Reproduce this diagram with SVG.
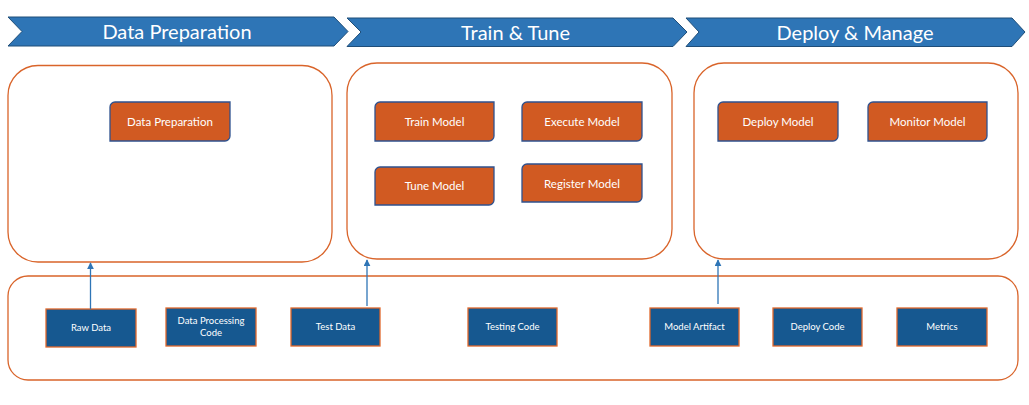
<svg xmlns="http://www.w3.org/2000/svg" width="1029" height="405" viewBox="0 0 1029 405">
<style>
.chev{fill:#2E75B6;stroke:#1F4E79;stroke-width:1}
.title{font-family:Lato,"Liberation Sans",sans-serif;font-size:20px;fill:#fff;text-anchor:middle}
.panel{fill:#fff;stroke:#D9642A;stroke-width:1.3}
.onode{fill:#D15A22;stroke:#2F528F;stroke-width:1.3}
.otext{font-family:Lato,"Liberation Sans",sans-serif;font-size:11.5px;fill:#fff;text-anchor:middle}
.bnode{fill:#165890;stroke:#E0682C;stroke-width:1.3}
.btext{font-family:Lato,"Liberation Sans",sans-serif;font-size:9.5px;fill:#fff;text-anchor:middle}
.conn{stroke:#2E75B6;stroke-width:1.3;fill:none;marker-end:url(#ah)}
</style>
<defs>
<marker id="ah" viewBox="0 0 10 10" refX="9" refY="5" markerWidth="7" markerHeight="7" markerUnits="userSpaceOnUse" orient="auto"><path d="M0,0 L10,5 L0,10 z" fill="#2E75B6"/></marker>
</defs>
<rect width="1029" height="405" fill="#fff"/>
<g id="chevron-data-preparation">
<polygon class="chev" points="8,17 334,17 348,31.5 334,46 8,46 22,31.5"/>
<text class="title" x="177" y="39">Data Preparation</text>
</g>
<g id="chevron-train-tune">
<polygon class="chev" points="347,18 673,18 687,32 673,46.5 347,46.5 361,32"/>
<text class="title" x="515.5" y="39.5">Train &amp; Tune</text>
</g>
<g id="chevron-deploy-manage">
<polygon class="chev" points="686,18 1012,18 1025,32 1012,46.5 686,46.5 699,32"/>
<text class="title" x="855" y="39.5">Deploy &amp; Manage</text>
</g>
<g id="panel-data-preparation"><rect class="panel" x="8" y="65.5" width="324" height="196.5" rx="30"/></g>
<g id="panel-train-tune"><rect class="panel" x="347" y="63" width="325" height="196" rx="30"/></g>
<g id="panel-deploy-manage"><rect class="panel" x="694" y="63" width="324" height="196" rx="30"/></g>
<g id="panel-artifacts"><rect class="panel" x="8" y="276" width="1010" height="104" rx="20"/></g>
<g id="node-data-preparation">
<path class="onode" d="M115,102 H230 V136 A5,5 0 0 1 225,141 H110 V107 A5,5 0 0 1 115,102 Z"/>
<text class="otext" x="170" y="125.5">Data Preparation</text>
</g>
<g id="node-train-model">
<path class="onode" d="M380,102 H494 V136 A5,5 0 0 1 489,141 H375 V107 A5,5 0 0 1 380,102 Z"/>
<text class="otext" x="434.5" y="125.5">Train Model</text>
</g>
<g id="node-execute-model">
<path class="onode" d="M527,102 H642 V136 A5,5 0 0 1 637,141 H522 V107 A5,5 0 0 1 527,102 Z"/>
<text class="otext" x="582" y="125.5">Execute Model</text>
</g>
<g id="node-tune-model">
<path class="onode" d="M380,167 H494 V200 A5,5 0 0 1 489,205 H375 V172 A5,5 0 0 1 380,167 Z"/>
<text class="otext" x="434.5" y="190">Tune Model</text>
</g>
<g id="node-register-model">
<path class="onode" d="M527,164 H642 V197 A5,5 0 0 1 637,202 H522 V169 A5,5 0 0 1 527,164 Z"/>
<text class="otext" x="582" y="188">Register Model</text>
</g>
<g id="node-deploy-model">
<path class="onode" d="M723,102 H838 V136 A5,5 0 0 1 833,141 H718 V107 A5,5 0 0 1 723,102 Z"/>
<text class="otext" x="778" y="125.5">Deploy Model</text>
</g>
<g id="node-monitor-model">
<path class="onode" d="M873,102 H987 V136 A5,5 0 0 1 982,141 H868 V107 A5,5 0 0 1 873,102 Z"/>
<text class="otext" x="927.5" y="125.5">Monitor Model</text>
</g>
<g id="node-raw-data">
<rect class="bnode" x="46" y="309" width="90" height="38"/>
<text class="btext" x="91" y="331">Raw Data</text>
</g>
<g id="node-data-processing-code">
<rect class="bnode" x="166" y="308" width="90" height="38"/>
<text class="btext" x="211" y="324">Data Processing</text>
<text class="btext" x="211" y="335.5">Code</text>
</g>
<g id="node-test-data">
<rect class="bnode" x="291" y="308" width="89" height="38"/>
<text class="btext" x="335.5" y="330">Test Data</text>
</g>
<g id="node-testing-code">
<rect class="bnode" x="468" y="308" width="89" height="38"/>
<text class="btext" x="512.5" y="330">Testing Code</text>
</g>
<g id="node-model-artifact">
<rect class="bnode" x="650" y="308" width="89" height="38"/>
<text class="btext" x="694.5" y="330">Model Artifact</text>
</g>
<g id="node-deploy-code">
<rect class="bnode" x="773" y="308" width="89" height="38"/>
<text class="btext" x="817.5" y="330">Deploy Code</text>
</g>
<g id="node-metrics">
<rect class="bnode" x="897" y="308" width="90" height="38"/>
<text class="btext" x="942" y="330">Metrics</text>
</g>
<g id="connectors">
<line class="conn" x1="90.5" y1="309" x2="90.5" y2="263"/>
<line class="conn" x1="367" y1="306" x2="367" y2="260"/>
<line class="conn" x1="718" y1="304" x2="718" y2="260"/>
</g>
</svg>
